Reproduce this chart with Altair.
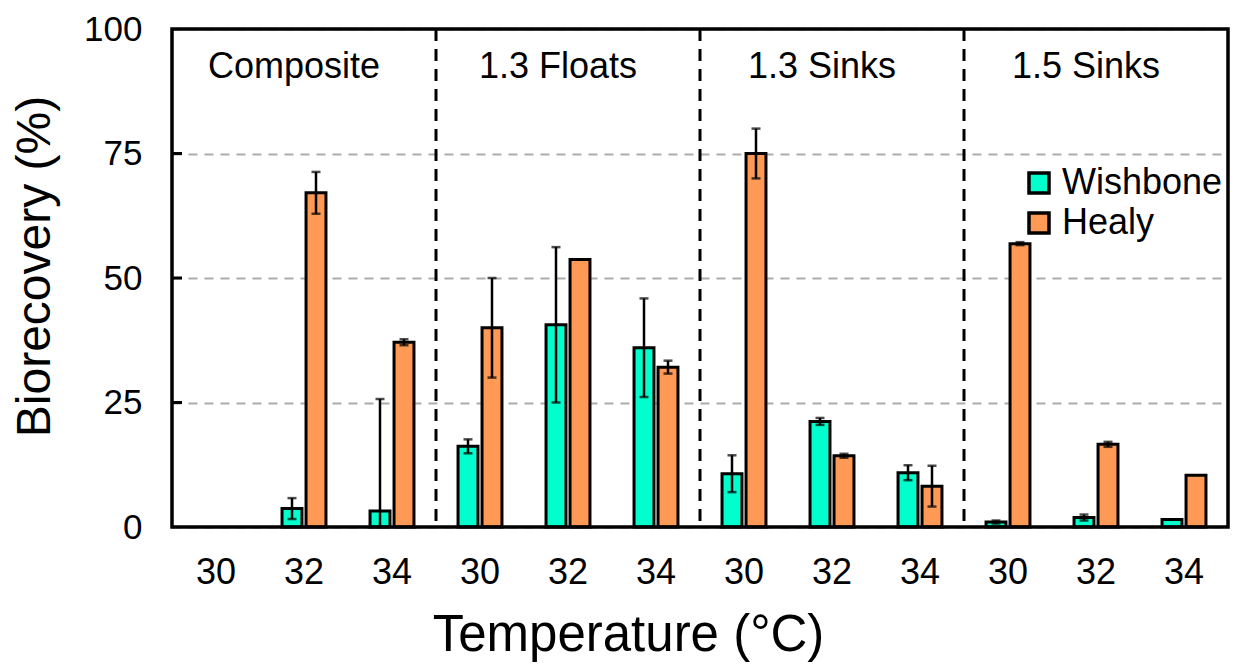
import altair as alt
import pandas as pd

groups = ["Composite", "1.3 Floats", "1.3 Sinks", "1.5 Sinks"]
temps = [30, 32, 34]
series = ["Wishbone", "Healy"]

wishbone = [None, 3.7, 3.2, 16.2, 40.6, 36.0, 10.7, 21.2, 10.9, 1.0, 1.9, 1.5]
wishbone_err = [None, 2.1, 22.5, 1.4, 15.6, 9.9, 3.7, 0.7, 1.5, 0.3, 0.6, 0]
healy = [None, 67.1, 37.1, 40.0, 53.7, 32.1, 75.0, 14.3, 8.2, 56.9, 16.6, 10.4]
healy_err = [None, 4.2, 0.6, 10.0, 0, 1.3, 5.0, 0.4, 4.1, 0.3, 0.5, 0]

colors = ["#00FFCC", "#FF9A56"]
y_ticks = [0, 25, 50, 75, 100]
inner_ticks = [25, 50, 75]

W, H = 1056, 498

slots = [f"{g}|{t}" for g in groups for t in temps]

rows = []
for i, s in enumerate(slots):
    for name, vals, errs in (("Wishbone", wishbone, wishbone_err), ("Healy", healy, healy_err)):
        v = vals[i]
        if v is None:
            continue
        e = errs[i]
        rows.append({"slot": s, "series": name, "value": v,
                     "lo": max(0.0, v - e), "hi": v + e, "err": e})
df = pd.DataFrame(rows)
df_err = df[df["err"] > 0]

sep_df = pd.DataFrame({"slot": [f"{g}|34" for g in groups[:-1]]})
lab_df = pd.DataFrame({"slot": [f"{g}|32" for g in groups], "label": groups, "y": [92.4] * 4})
tick_df = pd.DataFrame({"v": inner_ticks})
frame_df = pd.DataFrame({"k": [0]})

FONT = "Liberation Sans"

x_enc = alt.X("slot:N", scale=alt.Scale(domain=slots, paddingInner=0, paddingOuter=0),
              axis=alt.Axis(title="Temperature (°C)", labelExpr="split(datum.label, '|')[1]",
                            labelAngle=0, ticks=False, domain=False, labelFontSize=36,
                            labelPadding=28, titleFontSize=51, titleFontWeight="normal",
                            titlePadding=20, titleX=456, titleAnchor="middle",
                            labelColor="black", titleColor="black",
                            labelFont=FONT, titleFont=FONT))
y_scale = alt.Scale(domain=[0, 100], nice=False)
off_enc = alt.XOffset("series:N", scale=alt.Scale(domain=series, paddingInner=0.17, paddingOuter=0.918))

base = alt.Chart(df)

bars = base.mark_bar(stroke="black", strokeWidth=3).encode(
    x=x_enc,
    xOffset=off_enc,
    y=alt.Y("value:Q", scale=y_scale,
            axis=alt.Axis(title="Biorecovery  (%)", values=y_ticks, tickSize=0, domain=False,
                          grid=True, gridColor="#ABABAB", gridDash=[9, 7], gridWidth=2,
                          labelFontSize=35, labelPadding=30, titleFontSize=48,
                          titleFontWeight="normal", titlePadding=24, titleY=237,
                          titleAnchor="middle", labelColor="black",
                          titleColor="black", labelFont=FONT, titleFont=FONT)),
    color=alt.Color("series:N", scale=alt.Scale(domain=series, range=colors),
                    legend=alt.Legend(title=None, orient="none", legendX=849, legendY=136,
                                      symbolType="square", symbolSize=400,
                                      symbolStrokeColor="black", symbolStrokeWidth=3.5,
                                      labelFontSize=36, labelFont=FONT, labelColor="black",
                                      labelOffset=5, rowPadding=4, labelLimit=400)),
)

err_rules = alt.Chart(df_err).mark_rule(color="black", strokeWidth=2.5).encode(
    x="slot:N", xOffset=off_enc, y=alt.Y("lo:Q", scale=y_scale), y2="hi:Q")
cap_lo = alt.Chart(df_err).mark_tick(color="black", thickness=2.5, size=9).encode(
    x="slot:N", xOffset=off_enc, y=alt.Y("lo:Q", scale=y_scale))
cap_hi = alt.Chart(df_err).mark_tick(color="black", thickness=2.5, size=9).encode(
    x="slot:N", xOffset=off_enc, y=alt.Y("hi:Q", scale=y_scale))

seps = alt.Chart(sep_df).mark_rule(color="black", strokeWidth=3, strokeDash=[12, 8]).encode(
    x=alt.X("slot:N", bandPosition=1))

labels = alt.Chart(lab_df).mark_text(fontSize=36, font=FONT, color="black", baseline="middle",
                                     dx=-10).encode(
    x="slot:N", y=alt.Y("y:Q", scale=y_scale), text="label:N")

yticks = alt.Chart(tick_df).mark_rule(color="black", strokeWidth=3).encode(
    x=alt.value(0), x2=alt.value(10), y=alt.Y("v:Q", scale=y_scale))

frame = alt.Chart(frame_df).mark_rect(fillOpacity=0, stroke="black", strokeWidth=3.5).encode(
    x=alt.value(0), x2=alt.value(W), y=alt.value(0), y2=alt.value(H))

chart = alt.layer(bars, err_rules, cap_lo, cap_hi, seps, labels, yticks, frame).properties(
    width=W, height=H,
    autosize=alt.AutoSizeParams(type="none"),
    padding={"left": 164, "top": 21, "right": 2, "bottom": 150},
).configure_view(stroke="black", strokeWidth=3).configure(background="white")

chart.save("out.html", embed_options={"renderer": "svg", "actions": False})
